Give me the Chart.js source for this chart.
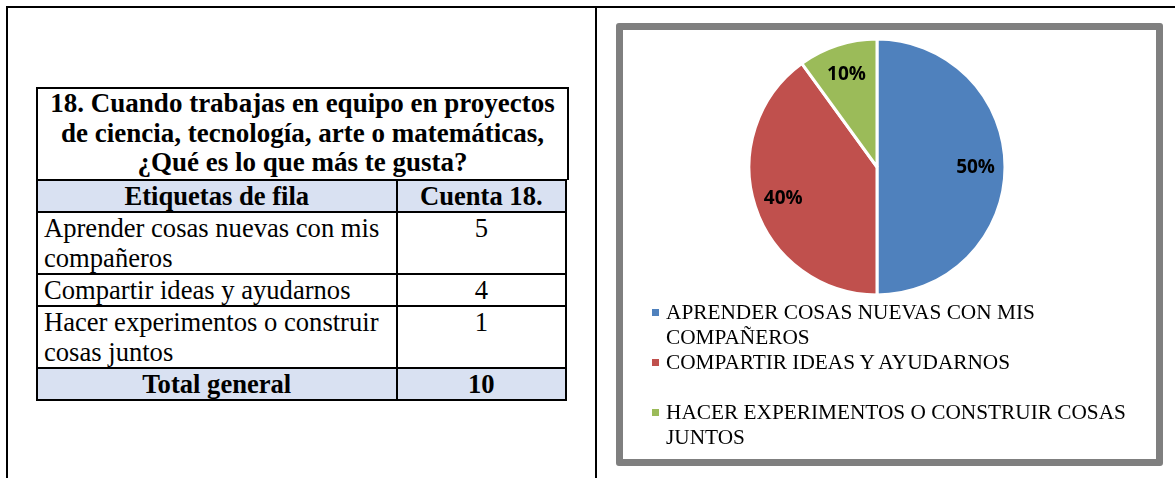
<!DOCTYPE html>
<html>
<head>
<meta charset="utf-8">
<script src="https://cdn.jsdelivr.net/npm/chart.js@4.4.0/dist/chart.umd.min.js"></script>
<style>
html,body{margin:0;padding:0;background:#fff;}
body{width:1175px;height:478px;position:relative;overflow:hidden;font-family:"Liberation Serif","Times New Roman",serif;color:#000;}
.ln{position:absolute;background:#000;}
#title{position:absolute;left:36px;top:87px;width:533px;height:93px;box-sizing:border-box;border:2px solid #000;border-bottom:none;font-weight:bold;font-size:27px;line-height:29.5px;text-align:center;white-space:nowrap;overflow:visible;}
#tbl{position:absolute;left:36px;top:179px;width:531px;border-collapse:collapse;font-size:26.6px;line-height:30px;}
#tbl td,#tbl th{border:2px solid #000;padding:0;vertical-align:top;}
#tbl th{font-weight:bold;background:#D9E1F2;text-align:center;}
#tbl td.lbl{padding-left:6px;text-align:left;}
#tbl td.num{text-align:center;}
#tbl tr.tot td{font-weight:bold;background:#D9E1F2;text-align:center;}
#frame{position:absolute;left:616px;top:23px;width:547px;height:443px;box-sizing:border-box;border:7px solid #7F7F7F;border-radius:3px;}
#pie{position:absolute;left:742px;top:32px;}
#legend{position:absolute;left:652px;top:300px;width:510px;font-size:21.3px;line-height:25px;}
.li{display:flex;align-items:flex-start;}
.mk{width:7px;height:7px;margin-top:9px;margin-right:7px;flex:none;}
.tx{width:490px;}
</style>
</head>
<body>
<div class="ln" style="left:6px;top:6px;width:1169px;height:2px"></div>
<div class="ln" style="left:6px;top:6px;width:2px;height:472px"></div>
<div class="ln" style="left:595px;top:6px;width:2px;height:472px"></div>

<div id="title"></div>
<table id="tbl"></table>

<div id="frame"></div>
<canvas id="pie" width="270" height="270"></canvas>
<div id="legend"></div>

<script>
// ---- data ----
const tableTitle = ["18. Cuando trabajas en equipo en proyectos", "de ciencia, tecnología, arte o matemáticas,", "¿Qué es lo que más te gusta?"];
const headerLabels = ["Etiquetas de fila", "Cuenta 18."];
const categories = ["Aprender cosas nuevas con mis compañeros", "Compartir ideas y ayudarnos", "Hacer experimentos o construir cosas juntos"];
const counts = [5, 4, 1];
const totalLabel = "Total general";
const legendLabels = ["APRENDER COSAS NUEVAS CON MIS COMPAÑEROS", "COMPARTIR IDEAS Y AYUDARNOS", "HACER EXPERIMENTOS O CONSTRUIR COSAS JUNTOS"];
const colors = ["#4F81BD", "#C0504D", "#9BBB59"];

// ---- table ----
document.getElementById('title').innerHTML = tableTitle.join('<br>');
const tbl = document.getElementById('tbl');
let html = '<colgroup><col style="width:361px"><col style="width:170px"></colgroup>';
html += '<tr><th>' + headerLabels[0] + '</th><th>' + headerLabels[1] + '</th></tr>';
categories.forEach((c, i) => {
  html += '<tr><td class="lbl">' + c + '</td><td class="num">' + counts[i] + '</td></tr>';
});
const total = counts.reduce((a, b) => a + b, 0);
html += '<tr class="tot"><td>' + totalLabel + '</td><td>' + total + '</td></tr>';
tbl.innerHTML = html;

// ---- pie labels plugin ----
const pieLabels = {
  id: 'pieLabels',
  afterDatasetsDraw(chart) {
    const ctx = chart.ctx;
    const meta = chart.getDatasetMeta(0);
    const data = chart.data.datasets[0].data;
    const sum = data.reduce((a, b) => a + b, 0);
    ctx.save();
    ctx.font = 'bold 19px "Open Sans", "Liberation Sans", sans-serif';
    ctx.fillStyle = '#000';
    ctx.textAlign = 'center';
    ctx.textBaseline = 'middle';
    meta.data.forEach((arc, i) => {
      const p = arc.getProps(['x', 'y', 'startAngle', 'endAngle', 'outerRadius'], true);
      const mid = (p.startAngle + p.endAngle) / 2;
      const r = p.outerRadius * 0.77;
      ctx.fillText(Math.round(data[i] / sum * 100) + '%', p.x + Math.cos(mid) * r, p.y + Math.sin(mid) * r + 1);
    });
    ctx.restore();
  }
};

const chart = new Chart(document.getElementById('pie'), {
  type: 'pie',
  data: {
    labels: legendLabels,
    datasets: [{
      data: counts,
      backgroundColor: colors,
      borderColor: '#FFFFFF',
      borderWidth: 3
    }]
  },
  options: {
    responsive: false,
    animation: false,
    radius: 128,
    layout: { padding: 0 },
    plugins: { legend: { display: false }, tooltip: { enabled: false } }
  },
  plugins: [pieLabels]
});

// ---- legend (HTML, from chart data) ----
const lg = document.getElementById('legend');
chart.data.labels.forEach((lab, i) => {
  const d = document.createElement('div');
  d.className = 'li';
  if (i === 2) d.style.marginTop = '25px';
  d.innerHTML = '<div class="mk" style="background:' + chart.data.datasets[0].backgroundColor[i] + '"></div><div class="tx">' + lab + '</div>';
  lg.appendChild(d);
});
</script>
</body>
</html>
